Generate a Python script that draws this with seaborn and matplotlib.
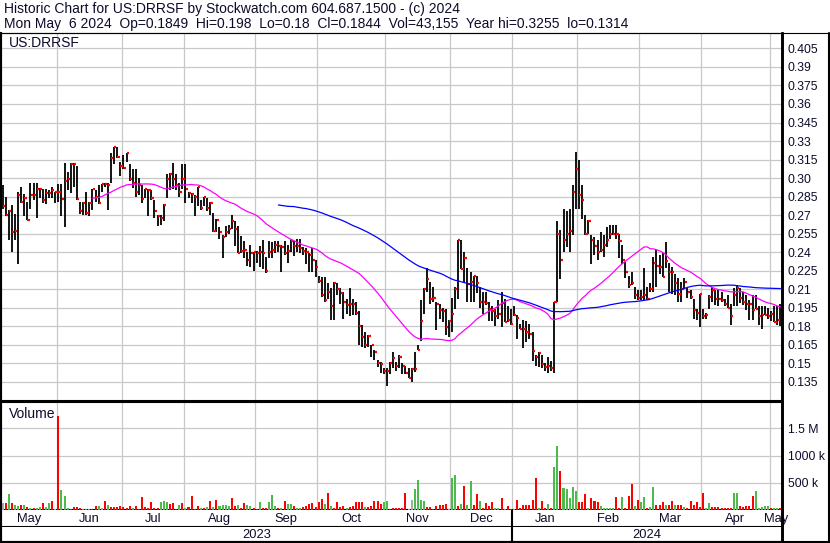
import numpy as np
import pandas as pd
import matplotlib
matplotlib.use("Agg")
import matplotlib.pyplot as plt
from matplotlib.lines import Line2D
import seaborn as sns

# ---------------- data ----------------
holidays = ["2023-05-29", "2023-06-19", "2023-07-04", "2023-09-04", "2023-11-23",
            "2023-12-25", "2024-01-01", "2024-01-15", "2024-02-19", "2024-03-29"]
dates = pd.bdate_range("2023-05-05", "2024-05-06")
dates = dates[~dates.isin(pd.to_datetime(holidays))]

highs = [
    # May
    .294, .285, .274, .278, .271, .289, .293, .287, .281, .296, .296, .296, .292, .291, .291, .290, .293, .289,
    # Jun
    .295, .295, .312, .305, .312, .312, .310, .281, .281, .289, .281, .291, .290, .294, .295, .296, .296, .320, .3255, .325, .313,
    # Jul
    .319, .320, .311, .307, .307, .300, .294, .291, .291, .290, .282, .270, .270, .279, .303, .304, .312, .303, .296, .311,
    # Aug
    .311, .289, .288, .286, .293, .282, .285, .284, .281, .272, .267, .260, .254, .261, .262, .270, .265, .261, .253, .249, .240, .246, .240,
    # Sep
    .241, .245, .250, .236, .249, .248, .249, .249, .246, .249, .246, .251, .249, .251, .251, .244, .243, .239, .243, .234,
    # Oct
    .221, .220, .220, .215, .211, .216, .215, .211, .208, .202, .211, .202, .200, .192, .181, .175, .173, .165, .161, .153, .151, .146,
    # Nov
    .146, .151, .159, .151, .157, .150, .148, .146, .146, .159, .165, .201, .211, .227, .216, .212, .200, .198, .195, .194, .185,
    # Dec
    .203, .212, .250, .250, .240, .227, .224, .221, .221, .212, .208, .208, .200, .196, .194, .201, .208, .202, .196, .194,
    # Jan
    .196, .189, .182, .185, .184, .182, .175, .157, .159, .157, .150, .155, .152, .200, .265, .258, .275, .273, .275, .294, .321,
    # Feb
    .315, .294, .270, .266, .254, .252, .250, .256, .254, .260, .262, .262, .262, .255, .246, .232, .221, .224, .212, .209,
    # Mar
    .209, .227, .212, .215, .236, .242, .238, .239, .248, .231, .228, .222, .219, .216, .219, .211, .209, .202, .194, .206,
    # Apr
    .194, .191, .205, .212, .209, .209, .208, .202, .205, .198, .211, .213, .211, .208, .205, .201, .205, .205, .196, .196, .196, .195,
    # May
    .192, .196, .196, .198,
]
lows = [
    .275, .269, .250, .240, .250, .230, .280, .269, .266, .275, .282, .268, .284, .280, .279, .284, .284, .280,
    .281, .269, .260, .290, .288, .293, .282, .271, .270, .270, .269, .274, .281, .279, .289, .293, .274, .296, .311, .316, .302,
    .307, .313, .298, .292, .285, .286, .280, .284, .269, .282, .268, .261, .262, .265, .284, .290, .291, .290, .285, .291,
    .280, .284, .280, .269, .277, .274, .277, .273, .270, .256, .256, .251, .235, .252, .255, .259, .245, .239, .239, .235, .229, .228, .225,
    .231, .228, .226, .223, .235, .235, .239, .240, .224, .238, .231, .240, .237, .240, .239, .238, .230, .224, .224, .220,
    .215, .204, .200, .202, .185, .185, .205, .198, .186, .190, .188, .189, .189, .165, .163, .162, .163, .155, .153, .147, .142, .141,
    .1314, .141, .146, .144, .146, .141, .141, .138, .135, .143, .161, .168, .190, .208, .198, .200, .177, .186, .183, .173, .171,
    .175, .194, .202, .226, .216, .200, .200, .200, .207, .195, .190, .197, .184, .184, .180, .186, .179, .183, .183, .181,
    .188, .170, .178, .162, .167, .170, .152, .148, .147, .146, .144, .142, .144, .142, .200, .218, .240, .244, .240, .254, .275,
    .275, .267, .254, .255, .230, .238, .234, .240, .236, .244, .251, .254, .251, .235, .230, .219, .211, .213, .202, .201,
    .201, .201, .201, .208, .208, .212, .222, .220, .227, .208, .206, .205, .200, .200, .210, .203, .202, .186, .185, .179,
    .186, .186, .194, .200, .197, .196, .200, .196, .195, .181, .196, .196, .199, .197, .193, .185, .185, .194, .181, .178, .189, .186,
    .184, .183, .181, .180,
]
closes = [
    .277, .270, .273, .256, .257, .286, .281, .284, .266, .286, .286, .291, .291, .282, .288, .288, .290, .289,
    .289, .283, .298, .299, .311, .311, .283, .273, .280, .272, .280, .291, .285, .280, .295, .295, .294, .316, .325, .317, .310,
    .308, .320, .299, .296, .289, .294, .283, .291, .290, .284, .273, .269, .268, .278, .299, .303, .299, .294, .289, .299,
    .291, .288, .287, .285, .293, .276, .285, .276, .280, .257, .266, .256, .252, .256, .259, .265, .259, .239, .241, .242, .234, .239, .240,
    .239, .240, .239, .225, .240, .242, .246, .245, .244, .239, .241, .249, .245, .245, .243, .241, .240, .238, .234, .228,
    .217, .205, .201, .208, .196, .215, .210, .207, .200, .197, .198, .198, .191, .180, .171, .165, .172, .165, .159, .150, .149, .144,
    .144, .150, .154, .148, .155, .148, .142, .138, .145, .145, .161, .184, .210, .218, .202, .203, .198, .193, .192, .179, .184,
    .190, .210, .250, .226, .235, .214, .216, .221, .215, .200, .200, .199, .194, .192, .188, .190, .199, .183, .185, .182,
    .189, .187, .178, .178, .175, .174, .160, .155, .158, .149, .147, .148, .146, .200, .255, .234, .250, .255, .257, .289, .307,
    .286, .282, .255, .265, .250, .245, .240, .242, .246, .250, .255, .255, .255, .249, .234, .224, .213, .215, .205, .203,
    .204, .205, .202, .210, .231, .229, .228, .220, .233, .224, .224, .215, .206, .210, .216, .208, .204, .193, .191, .206,
    .188, .189, .204, .209, .202, .202, .201, .198, .195, .188, .205, .211, .203, .200, .198, .198, .193, .194, .188, .189, .189, .188,
    .190, .183, .185, .1844,
]
# volume in thousands of shares
volume_k = [
    122, 122, 288, 122, 83, 70, 83, 96, 58, 32, 32, 45, 58, 122, 58, 135, 160, 15,
    1730, 365, 250, 38, 19, 58, 58, 32, 19, 19, 19, 15, 77, 77, 45, 160, 96, 58, 58, 58, 77,
    58, 32, 77, 32, 77, 15, 237, 58, 45, 141, 45, 38, 154, 173, 141, 109, 122, 15, 96, 122,
    32, 58, 250, 15, 77, 32, 32, 58, 160, 58, 192, 70, 96, 83, 70, 212, 77, 96, 32, 122, 96, 70, 45,
    15, 154, 32, 45, 141, 269, 70, 45, 32, 173, 103, 109, 70, 38, 32, 58, 70, 109, 122, 58,
    141, 205, 103, 314, 77, 32, 141, 58, 77, 45, 58, 77, 154, 141, 141, 58, 58, 77, 160, 173, 109, 141,
    173, 15, 45, 32, 45, 32, 314, 15, 192, 385, 558, 192, 160, 58, 58, 15, 70, 96, 96, 115, 26,
    596, 647, 77, 109, 442, 90, 538, 90, 288, 173, 38, 128, 77, 154, 45, 32, 212, 19, 77, 15,
    19, 192, 38, 83, 96, 96, 192, 596, 32, 173, 32, 115, 38, 788, 1173, 711, 404, 385, 212, 423, 346,
    154, 154, 288, 45, 212, 173, 154, 77, 32, 38, 32, 32, 231, 38, 237, 45, 250, 481, 77, 192,
    154, 231, 38, 58, 423, 96, 96, 147, 96, 96, 173, 96, 96, 83, 58, 32, 173, 96, 147, 58,
    308, 32, 135, 58, 58, 58, 38, 38, 38, 38, 308, 308, 70, 58, 70, 77, 250, 346, 32, 51, 77, 77,
    38, 32, 38, 43,
]
# volume bar colour: g = up day, r = down day, n = unchanged
vol_dir = ("nrgrggrgrgrggrggrn" + "rgggrrrrgggrrgnrgrrrr" + "rrrgrrrrrrrrgggrrrgr"
           + "grrrrgrgrgrggggrrgrrggr" + "rgrrgggrgrggrggrrrrr" + "rrgrgrrrrgrrrrrgrrrrrg"
           + "grrrrrrnnggggrrrrrrrn" + "ggrgrggrrgrrrrggrgrr" + "grrrrrrrgrrgrggrggggg"
           + "rrrgrrrgggggrrgrrrgr" + "ggrggrrrgrrgrrgrrrrr" + "rggrrrrrrrggrrrrrggggg" + "rggr")

price_ticks = [0.135, 0.15, 0.165, 0.18, 0.195, 0.21, 0.225, 0.24, 0.255, 0.27,
               0.285, 0.30, 0.315, 0.33, 0.345, 0.36, 0.375, 0.39, 0.405]
price_labels = ["0.135", "0.15", "0.165", "0.18", "0.195", "0.21", "0.225", "0.24", "0.255", "0.27",
                "0.285", "0.30", "0.315", "0.33", "0.345", "0.36", "0.375", "0.39", "0.405"]
vol_ticks = [500, 1000, 1500]
vol_labels = ["500 k", "1000 k", "1.5 M"]

header1 = "Historic Chart for US:DRRSF by Stockwatch.com 604.687.1500 - (c) 2024"
header2 = ("Mon May  6 2024  Op=0.1849  Hi=0.198  Lo=0.18  Cl=0.1844  Vol=43,155  "
           "Year hi=0.3255  lo=0.1314")

# ---------------- plot ----------------
sns.set_style("white")
plt.rcParams["font.family"] = ["Liberation Sans", "DejaVu Sans"]

TXT = "#0c0c2a"
GRID = "#c8c8c8"
W, H = 830, 543

n = len(dates)
idx = np.arange(n)
close_s = pd.Series(closes)
ma30 = close_s.rolling(30).mean()
ma90 = close_s.rolling(90).mean()

months = dates.to_period("M")
starts = np.flatnonzero(np.r_[True, months[1:] != months[:-1]])
bounds = starts[1:] - 0.5
edges = np.r_[-0.5, bounds, n - 0.5]

fig = plt.figure(figsize=(W / 100, H / 100), dpi=100)


def box(x0, y0, x1, y1):
    return [x0 / W, 1 - y1 / H, (x1 - x0) / W, (y1 - y0) / H]


axp = fig.add_axes(box(1, 33, 782, 401))
axv = fig.add_axes(box(1, 402, 782, 510))
axm = fig.add_axes(box(1, 510, 782, 527))
axy = fig.add_axes(box(1, 527, 782, 542))

# price panel
for b in bounds:
    axp.axvline(b, color=GRID, lw=0.9, zorder=0)
for t in price_ticks:
    axp.axhline(t, color=GRID, lw=0.9, zorder=0)
axp.vlines(idx, lows, highs, colors="black", lw=1.3, zorder=3)
axp.hlines(closes, idx + 0.05, idx + 0.75, colors="#ff0000", lw=1.6, zorder=4)
sns.lineplot(x=idx, y=ma30, color="#ff00ff", lw=0.9, ax=axp, zorder=5)
sns.lineplot(x=idx, y=ma90, color="#0000ff", lw=0.9, ax=axp, zorder=5)
axp.set_ylim(0.1194, 0.4175)

# volume panel
vol_df = pd.DataFrame({"i": idx, "v": volume_k, "d": list(vol_dir)})
sns.barplot(data=vol_df, x="i", y="v", hue="d", native_scale=True, dodge=False,
            palette={"g": "#4cbb4c", "r": "#ff0000", "n": "#a8a8a8"},
            width=0.65, saturation=1, errorbar=None, legend=False, ax=axv,
            linewidth=0, edgecolor="none", zorder=3)
for b in bounds:
    axv.axvline(b, color=GRID, lw=0.9, zorder=0)
for t in vol_ticks:
    axv.axhline(t, color=GRID, lw=0.9, zorder=0)
axv.set_ylim(0, 1983)

for a in (axp, axv, axm, axy):
    a.set_xlim(-0.5, n - 0.5)
    a.set_xticks([])
    a.set_xlabel("")
    a.set_ylabel("")
    for s in a.spines.values():
        s.set_color("black")
        s.set_linewidth(1.5)

axp.yaxis.tick_right()
axp.set_yticks(price_ticks)
axp.set_yticklabels(price_labels)
axv.yaxis.tick_right()
axv.set_yticks(vol_ticks)
axv.set_yticklabels(vol_labels)
for a in (axp, axv):
    a.tick_params(axis="y", length=0, pad=4, labelsize=8.8, labelcolor=TXT)
axp.spines["top"].set_linewidth(0.8)
axp.spines["right"].set_linewidth(1.9)
axv.spines["right"].set_linewidth(1.9)

# month and year rows
for a in (axm, axy):
    a.set_ylim(0, 1)
    a.set_yticks([])
    a.spines["top"].set_visible(False)
    a.spines["right"].set_linewidth(1.9)
for k in range(len(starts)):
    axm.text((edges[k] + edges[k + 1]) / 2, 0.45, dates[starts[k]].strftime("%b"),
             ha="center", va="center", fontsize=9.3, color=TXT, clip_on=False)
years = dates.year
ystarts = np.flatnonzero(np.r_[True, years[1:] != years[:-1]])
yedges = np.r_[-0.5, ystarts[1:] - 0.5, n - 0.5]
for k in range(len(ystarts)):
    axy.text((yedges[k] + yedges[k + 1]) / 2, 0.45, str(years[ystarts[k]]),
             ha="center", va="center", fontsize=9.3, color=TXT)
for b in ystarts[1:] - 0.5:
    for a in (axm, axy):
        a.axvline(b, color="black", lw=1.5)

# header, panel captions and outer frame
fig.text(4 / W, 1 - 13.5 / H, header1, fontsize=10, color=TXT, va="baseline")
fig.text(4 / W, 1 - 28 / H, header2, fontsize=10, color=TXT, va="baseline")
fig.text(9 / W, 1 - 47 / H, "US:DRRSF", fontsize=10, color=TXT, va="baseline")
fig.text(9 / W, 1 - 418 / H, "Volume", fontsize=10, color=TXT, va="baseline")


def fline(x0, y0, x1, y1, lw):
    fig.add_artist(Line2D([x0 / W, x1 / W], [1 - y0 / H, 1 - y1 / H],
                          color="black", lw=lw, transform=fig.transFigure))


fline(0, 32.5, 830, 32.5, 0.8)
fline(782, 33, 782, 543, 1.9)
fline(829, 32.5, 829, 543, 1.5)
fline(0.5, 32.5, 0.5, 543, 1.5)
fline(0, 542, 830, 542, 1.5)

fig.savefig("out.png", dpi=100, facecolor="white")
